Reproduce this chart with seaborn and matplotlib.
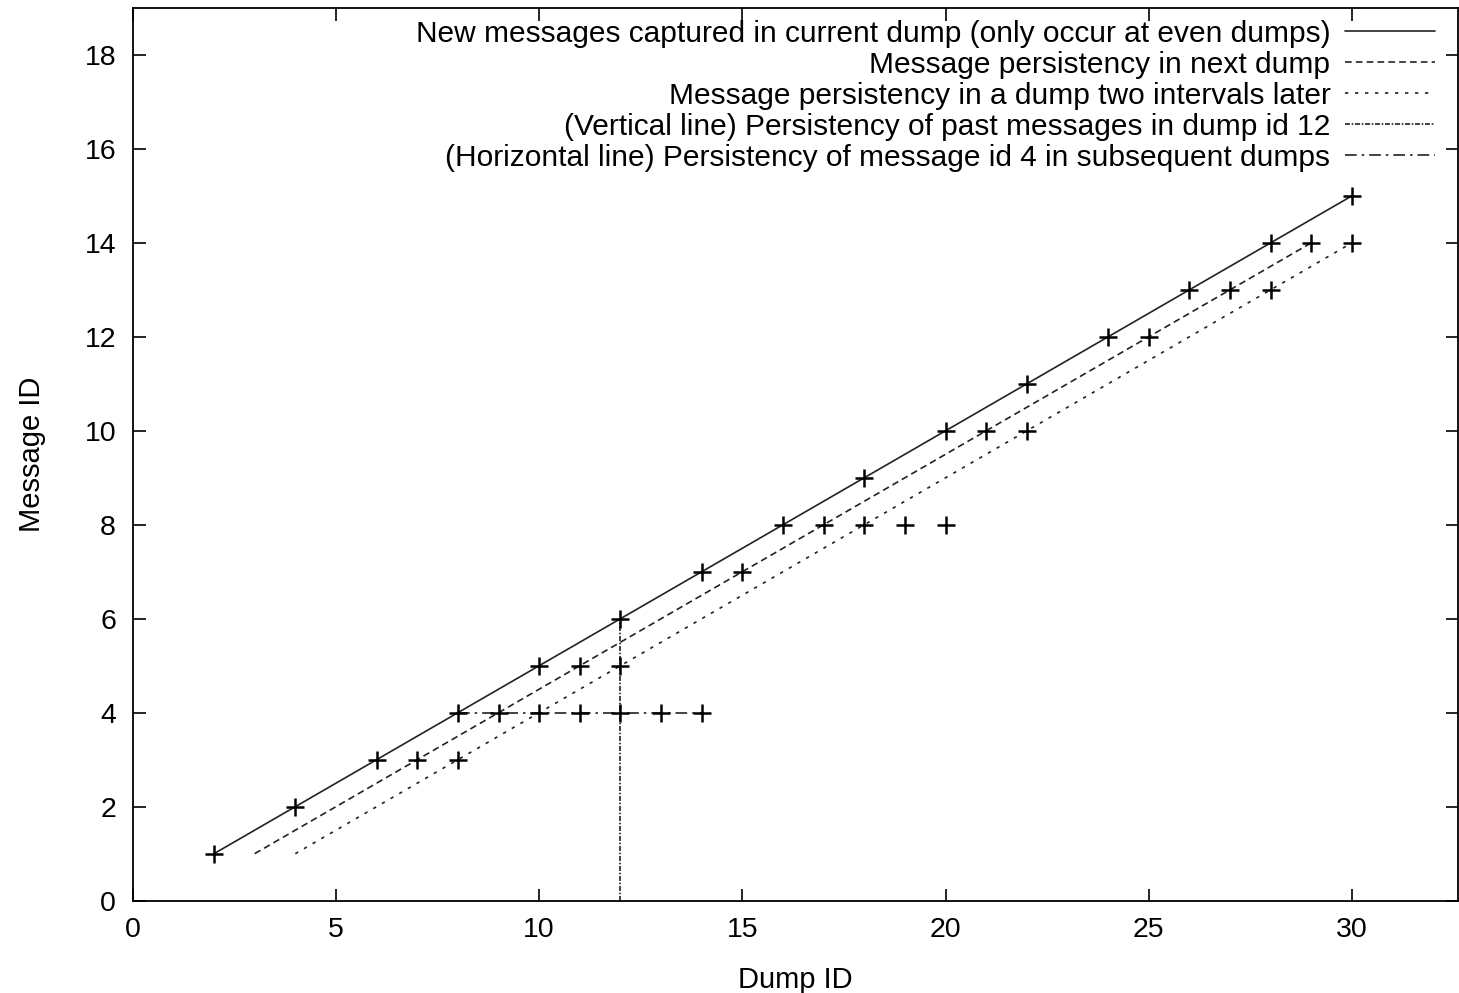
import numpy as np
import pandas as pd
import matplotlib
matplotlib.use("Agg")
import matplotlib.pyplot as plt
import seaborn as sns

# captured points (dump id, message id)
dump_ids = [2, 4, 6, 7, 8, 8, 9, 10, 11, 12, 13, 14, 10, 11, 12, 12, 14, 15,
            16, 17, 18, 19, 20, 18, 20, 21, 22, 22, 24, 25, 26, 27, 28, 28,
            29, 30, 30]
message_ids = [1, 2, 3, 3, 3, 4, 4, 4, 4, 4, 4, 4, 5, 5, 5, 6, 7, 7,
               8, 8, 8, 8, 8, 9, 10, 10, 10, 11, 12, 12, 13, 13, 13, 14,
               14, 14, 15]

# line end points
new_x = [2, 30]
new_y = [1, 15]
next_x = [3, 29]
next_y = [1, 14]
later_x = [4, 30]
later_y = [1, 14]
vert_x = [12, 12]
vert_y = [0, 6]
horiz_x = [8, 14]
horiz_y = [4, 4]

labels = [
    "New messages captured in current dump (only occur at even dumps)",
    "Message persistency in next dump",
    "Message persistency in a dump two intervals later",
    "(Vertical line) Persistency of past messages in dump id 12",
    "(Horizontal line) Persistency of message id 4 in subsequent dumps",
]

sns.set_style("ticks")
plt.rcParams["font.family"] = ["Liberation Sans", "DejaVu Sans"]
plt.rcParams["text.color"] = "black"
plt.rcParams["axes.labelcolor"] = "black"
plt.rcParams["xtick.color"] = "black"
plt.rcParams["ytick.color"] = "black"
plt.rcParams["axes.edgecolor"] = "black"

fig, ax = plt.subplots(figsize=(14.59, 9.93), dpi=100)
fig.subplots_adjust(left=0.091, right=0.999, top=0.992, bottom=0.093)

lines = [
    (new_x, new_y, "-"),
    (next_x, next_y, (0, (4, 2.5))),
    (later_x, later_y, (0, (2, 4))),
    (vert_x, vert_y, (0, (3, 1, 1, 1))),
    (horiz_x, horiz_y, (0, (7, 3, 1.5, 3))),
]
for (xs, ys, ls), lab in zip(lines, labels):
    sns.lineplot(x=xs, y=ys, ax=ax, color="#222222", linewidth=1.2,
                 linestyle=ls, estimator=None, sort=False, label=lab)

sns.scatterplot(x=dump_ids, y=message_ids, ax=ax, marker="+", s=180,
                color="black", linewidth=1.8, zorder=5)

ax.set_xlim(0, 32.6)
ax.set_ylim(0, 19)
ax.set_xticks(np.arange(0, 31, 5))
ax.set_yticks(np.arange(0, 19, 2))
ax.tick_params(direction="in", top=True, right=True, length=9, width=1.2,
               labelsize=20.5, pad=12)
for sp in ax.spines.values():
    sp.set_linewidth(1.3)

ax.set_xlabel("Dump ID", fontsize=21, labelpad=16)
ax.set_ylabel("Message ID", fontsize=21, labelpad=28)

ax.legend(loc="upper right", bbox_to_anchor=(0.992, 1.0), frameon=False,
          markerfirst=False, fontsize=21.5, handlelength=3.0,
          labelspacing=0.1, borderaxespad=0.0, handletextpad=0.5)

fig.savefig("out.png", dpi=100)
